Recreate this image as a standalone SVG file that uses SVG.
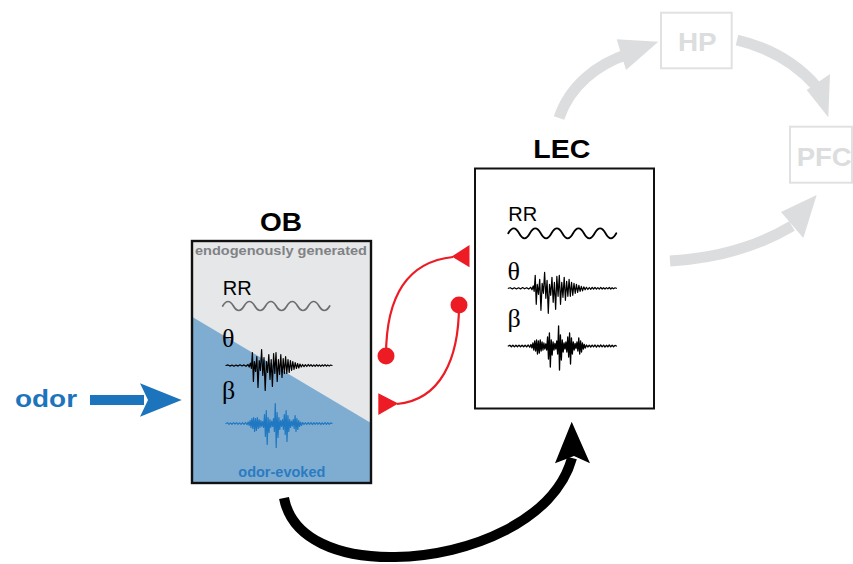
<svg xmlns="http://www.w3.org/2000/svg" xmlns:xlink="http://www.w3.org/1999/xlink" width="853" height="564" viewBox="0 0 853 564">
<style>
.lbl{font-family:"Liberation Sans",Arial,sans-serif;font-weight:bold}
.rr{font-family:"Liberation Sans",Arial,sans-serif;font-size:20px}
.gr{font-family:"Liberation Serif","Times New Roman",serif;font-size:26px}
.trace{fill:none;stroke-linejoin:round;stroke-linecap:round}
.red{fill:none;stroke:#ed1c24;stroke-width:2.2}
.gray{fill:none;stroke:#dcddde;stroke-width:11}
.gbox{fill:none;stroke:#e0e1e2;stroke-width:2}
</style>
<defs>
<path id="theta" d="M0,0 L2,-0.6 4,0.6 6,-0.5 8,0.7 10,-0.5 12,0.6 14,-0.7 16,0.5 18,-0.6 20,0.8 22,-1 23.2,1.5 24.4,-2.5 25.4,3 26.4,-13 27.4,16 28.4,-4 29.6,6 30.8,-9 32,22 33.2,-5 34.4,5 35.6,-16 36.8,10 38,-8 39.2,25 40.4,-4 41.6,7 42.8,-11 44,14 45.2,-6 46.4,21 47.6,-12 48.8,8 50,-13 51.2,16 52.4,-6 53.6,9 54.8,-11 56,12 57.2,-7 58.4,8 59.6,-9 60.8,8 62,-6 63.2,7 64.4,-5 65.6,5 66.8,-4 68,4 69.2,-3 70.4,3 71.6,-2 72.8,2.5 74,-1.5 75.3,1.5 76.6,-1 78,1.2 79.4,-0.8 80.8,1 82.2,-1 83.6,0.7 85,-0.9 86.4,0.9 87.8,-0.6 89.2,0.8 90.6,-0.9 92,0.7 93.4,-0.6 94.8,0.8 96.2,-0.7 97.6,0.6 99,-0.8 100.4,0.7 101.8,-0.6 103.2,0.6 104.6,-0.5 106,0"/>
<path id="beta" d="M0,0 L1.5,-0.8 3,0.8 4.5,-0.7 6,0.9 7.5,-0.8 9,0.7 10.5,-0.9 12,0.8 13.5,-0.7 15,0.8 16.5,-0.8 18,0.9 19.5,-1 21,1.2 22.2,-1.5 23.2,2 24.1,-3 25,4 25.9,-5 26.8,5 27.7,-6 28.6,8 29.5,-5 30.4,7 31.3,-6 32.2,5 33.1,-4 34,4 34.9,-3 35.8,3 36.7,-2 37.6,4 38.5,-9 39.4,13 40.3,-13 41.2,21 42.1,-6 43,9 43.9,-4 44.8,4 45.7,-2.5 46.6,3 47.5,-5 48.4,8 49.3,-20 50.2,24 51.1,-11 52,14 52.9,-6 53.8,6 54.7,-3 55.6,3 56.5,-4 57.4,6 58.3,-9 59.2,11 60.1,-13 61,18 61.9,-8 62.8,8 63.7,-4 64.6,4 65.5,-2.5 66.4,2.5 67.3,-4 68.2,5 69.1,-8 70,8 70.9,-5 71.8,6 72.7,-3 73.6,3 74.5,-1.5 75.5,2 76.7,-1 78,1 79.4,-0.8 80.8,1 82.2,-0.9 83.6,0.8 85,-1 86.4,1.1 87.8,-0.8 89.2,0.9 90.6,-1 92,0.8 93.4,-0.9 94.8,1 96.2,-0.7 97.6,0.8 99,-1 100.4,0.9 101.8,-0.8 103.2,0.8 104.6,-0.6 106,0"/>
</defs>
<rect width="853" height="564" fill="#ffffff"/>

<g id="OB">
<text class="lbl" x="260" y="231" font-size="26" textLength="42" lengthAdjust="spacingAndGlyphs">OB</text>
<rect x="192" y="241" width="179" height="242" fill="#e6e7e8"/>
<polygon points="192,316.7 371,423 371,483 192,483" fill="#7fadd2"/>
<rect x="192" y="241" width="179" height="242" fill="none" stroke="#111" stroke-width="2.4"/>
<text class="lbl" x="195" y="254.5" font-size="12" fill="#808285" textLength="172" lengthAdjust="spacingAndGlyphs">endogenously generated</text>
<text class="rr" x="222.7" y="295">RR</text>
<path class="trace" stroke="#6d6e71" stroke-width="1.7" d="M222.7,306 q5.35,-9 10.7,0 t10.7,0 t10.7,0 t10.7,0 t10.7,0 t10.7,0 t10.7,0 t10.7,0 t10.7,0 t10.7,0"/>
<text class="gr" x="222" y="347">θ</text>
<use xlink:href="#theta" class="trace" stroke="#000" stroke-width="1.2" transform="translate(226,365.5)"/>
<text class="gr" x="222" y="398.5">β</text>
<use xlink:href="#beta" class="trace" stroke="#1f78c1" stroke-width="1.2" transform="translate(226,423.5)"/>
<text class="lbl" x="238.3" y="476.7" font-size="14" fill="#2b7bc0" textLength="87" lengthAdjust="spacingAndGlyphs">odor-evoked</text>
</g>

<g id="LEC">
<text class="lbl" x="533.3" y="157.5" font-size="25" textLength="57" lengthAdjust="spacingAndGlyphs">LEC</text>
<rect x="475" y="168.5" width="179" height="240" fill="#fff" stroke="#111" stroke-width="2"/>
<text class="rr" x="508.3" y="220.7">RR</text>
<path class="trace" stroke="#000" stroke-width="1.8" d="M508.3,233.3 q5.4,-10 10.8,0 t10.8,0 t10.8,0 t10.8,0 t10.8,0 t10.8,0 t10.8,0 t10.8,0 t10.8,0 t10.8,0"/>
<text class="gr" x="507.5" y="280">θ</text>
<use xlink:href="#theta" class="trace" stroke="#000" stroke-width="1.2" transform="translate(508.3,288.3) scale(1.02,1)"/>
<text class="gr" x="507.5" y="327">β</text>
<use xlink:href="#beta" class="trace" stroke="#000" stroke-width="1.3" transform="translate(508.3,346) scale(1.02,1)"/>
</g>

<g id="HP">
<rect class="gbox" x="661" y="12.7" width="70.7" height="55.6"/>
<text class="lbl" x="678" y="50.5" font-size="25" fill="#dcddde" textLength="38.7" lengthAdjust="spacingAndGlyphs">HP</text>
</g>

<g id="PFC">
<rect class="gbox" x="790" y="126.7" width="62" height="56"/>
<text class="lbl" x="796.7" y="165.5" font-size="25" fill="#dcddde" textLength="55" lengthAdjust="spacingAndGlyphs">PFC</text>
</g>

<g id="odor">
<text class="lbl" x="15" y="407" font-size="24" fill="#1c75bc" textLength="62" lengthAdjust="spacingAndGlyphs">odor</text>
</g>

<g id="connectors">
<rect x="90" y="395" width="54" height="10" fill="#1c75bc"/>
<polygon points="140,383.3 181.7,400 140,416.7 148,400" fill="#1c75bc"/>

<path class="red" d="M386,356 C386,300 405,262 453,257"/>
<circle cx="386" cy="356" r="8.5" fill="#ed1c24"/>
<polygon points="451.7,256.5 469.5,245 469.5,267.3" fill="#ed1c24"/>
<path class="red" d="M459,305 C459,360 440,400 397,404"/>
<circle cx="459" cy="305" r="8.5" fill="#ed1c24"/>
<polygon points="398.3,403.5 378.3,393.3 378.3,415" fill="#ed1c24"/>

<path fill="none" stroke="#000" stroke-width="10" d="M284,498 C292,540 340,558 395,557 C470,556 555,520 572,458"/>
<polygon points="571.7,421.7 590,463.3 574,456 555,463.3" fill="#000"/>

<path class="gray" d="M559,118 C570,85 598,64 628,54"/>
<polygon points="616.7,39.3 658.3,41.7 626,70" fill="#dcddde"/>
<path class="gray" d="M737,40 C770,48 795,62 816,86"/>
<polygon points="806.7,90 830,74 828.3,117.3" fill="#dcddde"/>
<path class="gray" d="M670,261 C720,258 760,245 792,226"/>
<polygon points="781,212 816.7,195 803.3,238" fill="#dcddde"/>
</g>
</svg>
